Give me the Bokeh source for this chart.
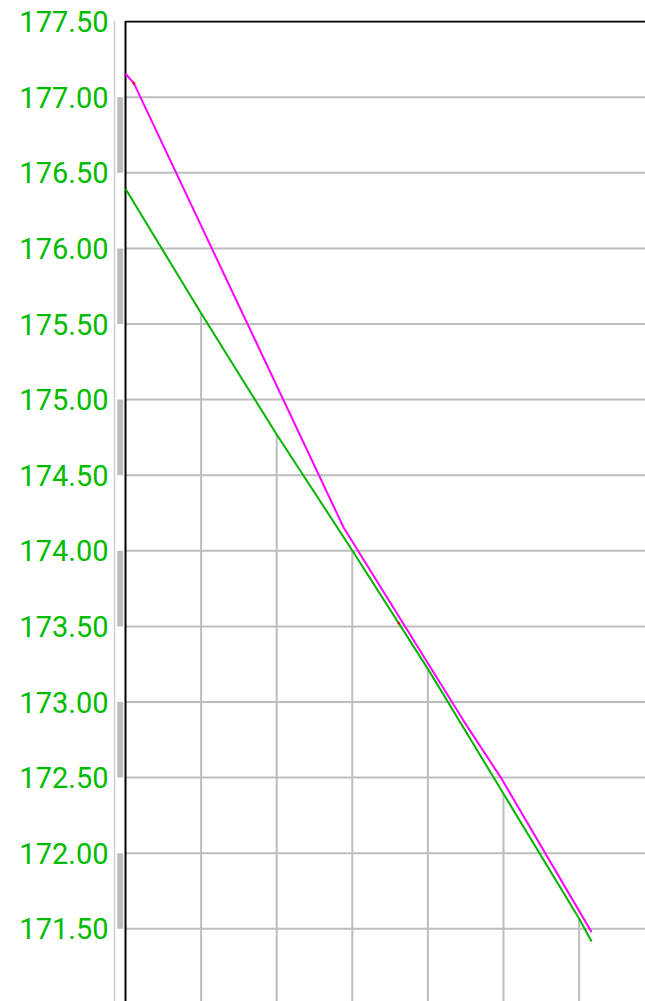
from bokeh.plotting import figure
from bokeh.models import Range1d, FixedTicker, NumeralTickFormatter
from bokeh.embed import file_html
from bokeh.resources import INLINE
import numpy as np

# ---- data ----
elev_ticks = [171.5, 172.0, 172.5, 173.0, 173.5, 174.0, 174.5, 175.0, 175.5, 176.0, 176.5, 177.0, 177.5]
band_bottoms = [171.5, 172.5, 173.5, 174.5, 175.5, 176.5]
station_lines = [20, 40, 60, 80, 100, 120]

ground_st = [0.0, 20.0, 40.0, 60.0, 80.0, 100.0, 120.0, 123.3]
ground_el = [176.394, 175.571, 174.769, 174.002, 173.219, 172.393, 171.568, 171.416]

design_st = [0.0, 2.2, 57.7, 89.4, 99.3, 123.3]
design_el = [177.155, 177.093, 174.154, 172.877, 172.5, 171.478]

marker_st = [2.2, 72.3]
marker_el = [177.093, 173.521]

# ---- layout (pixel scale) ----
MARGIN = 0
W, H = 645, 1001
BORDER_LEFT, BORDER_TOP = 114, 20
PX_PER_M = 75.6 / 20.0
PX_PER_EL = 151.2
ORIGIN_PX = 125 - MARGIN - BORDER_LEFT   # px from frame left to station 0
TOP_EL = 177.5
TOP_PX = 21.1 - MARGIN - BORDER_TOP      # px from frame top to TOP_EL

frame_w = W - BORDER_LEFT
frame_h = H - BORDER_TOP
x_start = -ORIGIN_PX / PX_PER_M
x_end = (frame_w - ORIGIN_PX) / PX_PER_M
y_end = TOP_EL + TOP_PX / PX_PER_EL
y_start = y_end - frame_h / PX_PER_EL

p = figure(width=W, height=H, output_backend="svg", toolbar_location=None,
           x_range=Range1d(x_start, x_end), y_range=Range1d(y_start, y_end),
           min_border_left=BORDER_LEFT, min_border_top=BORDER_TOP,
           min_border_right=0, min_border_bottom=0)
p.outline_line_color = None
p.xgrid.visible = False
p.ygrid.visible = False
p.xaxis.visible = False

ya = p.yaxis[0]
ya.ticker = FixedTicker(ticks=elev_ticks)
ya.formatter = NumeralTickFormatter(format="0.00")
ya.axis_line_color = "#cfcfcf"
ya.axis_line_width = 1.5
ya.major_tick_line_color = None
ya.minor_tick_line_color = None
ya.major_label_standoff = 0
ya.major_label_text_color = "#00bb00"
ya.major_label_text_font = "Roboto"
ya.major_label_text_font_size = "29px"

grey = "#bdbdbd"
# side bands
bl = -(125 - 116.7) / PX_PER_M
br = -(125 - 122.7) / PX_PER_M
p.quad(left=[bl] * len(band_bottoms), right=[br] * len(band_bottoms),
       bottom=band_bottoms, top=[b + 0.5 for b in band_bottoms],
       fill_color="#bdbdbd", line_color=None)

# horizontal grid lines
hl = [t for t in elev_ticks if t < TOP_EL]
p.segment(x0=[0] * len(hl), x1=[x_end] * len(hl), y0=hl, y1=hl,
          line_color=grey, line_width=2)

# vertical station lines up to ground
top_of_lines = np.interp(station_lines, ground_st, ground_el)
p.segment(x0=station_lines, x1=station_lines, y0=[y_start] * len(station_lines),
          y1=list(top_of_lines), line_color=grey, line_width=2)

# frame: left and top
p.line([0, 0, x_end], [y_start, TOP_EL, TOP_EL], line_color="black", line_width=2)

# profiles
p.line(ground_st, ground_el, line_color="#00b400", line_width=2)
p.line(design_st, design_el, line_color="#ff00ff", line_width=2)
p.scatter(marker_st, marker_el, size=2, color="red")

open("out.html", "w").write(file_html(p, INLINE))
